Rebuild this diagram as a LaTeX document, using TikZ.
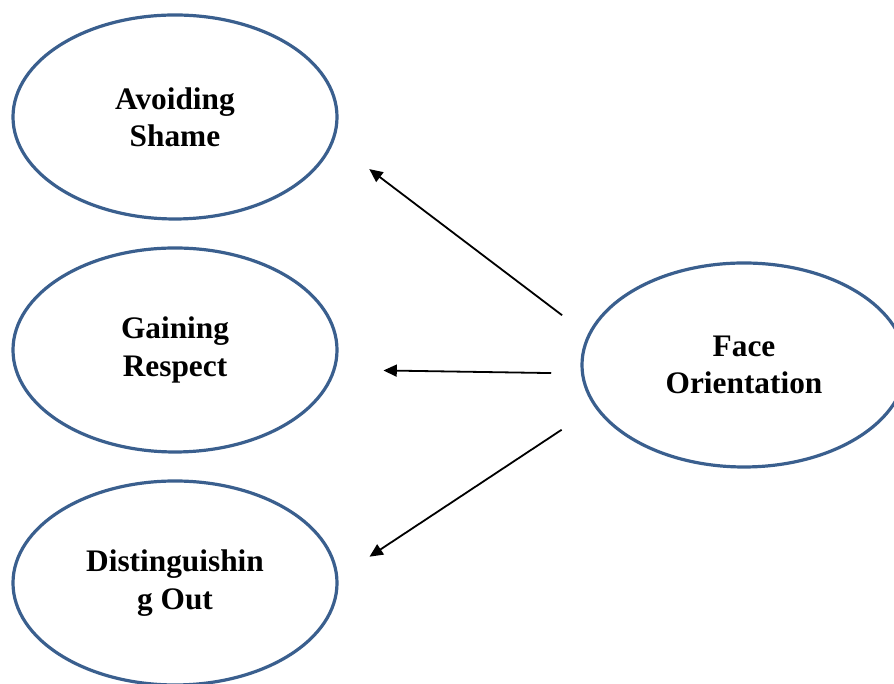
\documentclass[tikz,border=0pt]{standalone}
\usepackage{fontspec}
\setmainfont{Liberation Serif}
\definecolor{OvalBlue}{HTML}{3A5F8E}
\usetikzlibrary{arrows.meta,shapes.geometric}

\begin{document}
\begin{tikzpicture}[x=0.75pt,y=0.75pt,>={Triangle[length=10pt,width=9pt]},
  oval/.style={ellipse,draw=OvalBlue,line width=2.4pt,minimum width=243pt,minimum height=153pt,
    inner sep=0pt,align=center,font=\bfseries\fontsize{23.5}{28}\selectfont},
  link/.style={->,line width=1.35pt}]
  \useasboundingbox (0,0) rectangle (894,684);
  \node[oval] (avoid) at (175,567) {Avoiding\\Shame};
  \node[oval] (gain) at (175,334) {Gaining\\Respect};
  \node[oval] (dist) at (175,101) {Distinguishin\\g Out};
  \node[oval] (face) at (744,319) {Face\\Orientation};
  % arrows stop short of both ovals
  \draw[link,shorten <=24pt,shorten >=33.5pt] (face.169.6) -- (avoid.351.4);
  \draw[link,shorten <=22.3pt,shorten >=35.9pt] (face.183.4) -- (gain.353.2);
  \draw[link,shorten <=30pt,shorten >=28pt] (face.196) -- (dist.2.7);
\end{tikzpicture}
\end{document}
